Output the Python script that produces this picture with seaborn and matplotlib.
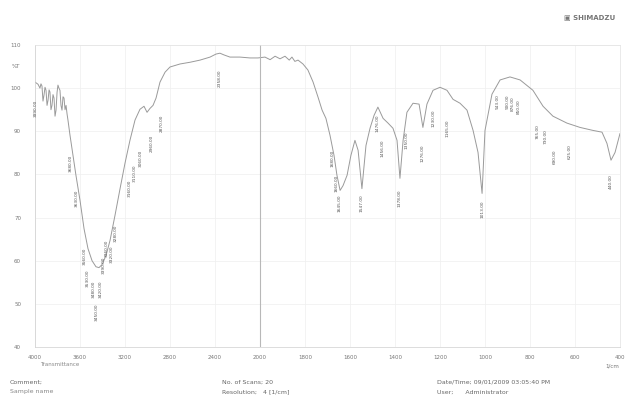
import numpy as np
import pandas as pd
import matplotlib
matplotlib.use("Agg")
import matplotlib.pyplot as plt
import seaborn as sns

# ---- data ----
wavenumber = [4000, 3973, 3956, 3947, 3938, 3929, 3920, 3911, 3902, 3893, 3884, 3875, 3867, 3858,
              3849, 3840, 3831, 3822, 3813, 3804, 3796, 3787, 3778, 3769, 3760, 3751, 3742, 3733,
              3724, 3715, 3707, 3689, 3662, 3636, 3600, 3564, 3529, 3493, 3458, 3431, 3404, 3369,
              3333, 3289, 3244, 3200, 3156, 3111, 3067, 3031, 3004, 2978, 2951, 2924, 2889, 2844,
              2800, 2711, 2622, 2533, 2444, 2391, 2356, 2320, 2267, 2178, 2089, 2018, 1978, 1955,
              1933, 1911, 1889, 1870, 1858, 1845, 1831, 1809, 1787, 1764, 1742, 1724, 1707, 1689,
              1671, 1658, 1644, 1631, 1613, 1596, 1578, 1564, 1547, 1529, 1511, 1493, 1476, 1453,
              1431, 1409, 1391, 1378, 1364, 1347, 1320, 1293, 1276, 1258, 1231, 1200, 1169, 1142,
              1111, 1080, 1053, 1031, 1013, 1000, 969, 933, 889, 844, 787, 742, 698, 636, 578, 520,
              480, 458, 440, 422, 400]
transmittance = [101.4, 100.9, 100.0, 101.0, 100.5, 97.0, 98.4, 100.2, 99.5, 96.0, 97.2, 99.6,
                 99.1, 95.0, 96.0, 98.5, 97.7, 93.5, 94.9, 99.0, 100.7, 100.0, 99.5, 96.0, 94.9,
                 98.0, 97.7, 95.0, 96.0, 94.0, 92.6, 89.1, 84.4, 79.8, 74.0, 67.4, 62.8, 60.0,
                 58.6, 58.4, 59.1, 61.2, 64.7, 70.5, 76.7, 82.6, 87.9, 92.6, 95.1, 95.8, 94.4,
                 95.3, 96.0, 97.7, 101.4, 103.7, 104.9, 105.6, 106.0, 106.5, 107.2, 107.9, 108.1,
                 107.7, 107.2, 107.2, 107.0, 107.0, 107.2, 106.6, 107.4, 106.8, 107.4, 106.5,
                 107.2, 106.2, 106.5, 105.6, 104.2, 101.4, 97.9, 94.9, 93.0, 89.1, 84.4, 79.8,
                 76.3, 77.4, 79.8, 84.4, 87.9, 85.6, 76.7, 86.7, 90.7, 93.7, 95.6, 93.0, 91.9,
                 90.7, 87.9, 79.1, 87.9, 94.4, 96.5, 96.3, 90.9, 96.3, 99.5, 100.2, 99.5, 97.4,
                 96.5, 94.9, 90.2, 85.1, 75.6, 90.2, 98.6, 101.9, 102.6, 101.9, 99.5, 95.8, 93.5,
                 91.9, 90.9, 90.2, 89.8, 87.2, 83.3, 85.1, 89.5]

peak_wn = [3990, 3680, 3630, 3560, 3530, 3480, 3450, 3420, 3390, 3360, 3320, 3280, 3160, 3110,
           3060, 2960, 2870, 2358, 1680, 1660, 1645, 1547, 1476, 1456, 1378, 1350, 1276, 1230,
           1165, 1013, 943, 900, 876, 850, 765, 730, 690, 625, 440]
peak_t = [98.4, 85.6, 77.4, 64.0, 59.0, 56.5, 51.0, 56.5, 62.0, 66.0, 64.6, 69.3, 79.8, 83.3,
          86.7, 90.2, 94.9, 105.3, 86.7, 81.0, 76.3, 76.3, 94.9, 89.0, 77.4, 91.0, 88.0, 96.0,
          93.7, 75.0, 99.5, 99.5, 99.0, 98.5, 92.6, 91.5, 86.7, 87.9, 81.0]

x_ticks = [4000, 3600, 3200, 2800, 2400, 2000, 1800, 1600, 1400, 1200, 1000, 800, 600, 400]
y_ticks = [40, 50, 60, 70, 80, 90, 100, 110]

df = pd.DataFrame({"wn": wavenumber, "t": transmittance})

# ---- figure ----
sns.set_theme(style="white")
plt.rcParams["font.family"] = ["DejaVu Sans"]
fig = plt.figure(figsize=(6.27, 3.97), dpi=100)
ax = fig.add_axes([35 / 627, 1 - 347 / 397, 585 / 627, 302 / 397])


def fwd(w):
    w = np.asarray(w, dtype=float)
    return np.where(w <= 2000, w / 200.0, 10.0 + (w - 2000) / 400.0)


def inv(p):
    p = np.asarray(p, dtype=float)
    return np.where(p <= 10, p * 200.0, 2000.0 + (p - 10) * 400.0)


ax.set_xscale("function", functions=(fwd, inv))
sns.lineplot(data=df, x="wn", y="t", ax=ax, sort=False, color="#9a9a9a", linewidth=0.7)
ax.set_xlim(4000, 400)
ax.set_ylim(40, 110)

ax.set_xticks(x_ticks)
ax.set_xticklabels([str(v) for v in x_ticks])
ax.set_yticks(y_ticks)
ax.set_yticklabels([str(v) for v in y_ticks])
ax.tick_params(axis="x", labelsize=4, colors="#777777", length=2, width=0.4, pad=4)
ax.tick_params(axis="y", labelsize=4, colors="#777777", length=2, width=0.4, pad=8)
ax.grid(True, color="#efefef", linewidth=0.5)
for s in ax.spines.values():
    s.set_color("#e2e2e2")
    s.set_linewidth(0.5)
ax.spines["left"].set_color("#cfcfcf")
ax.spines["bottom"].set_color("#cfcfcf")
ax.axvline(2000, color="#b8b8b8", linewidth=0.8)
ax.set_xlabel("")
ax.set_ylabel("")

for w, t in zip(peak_wn, peak_t):
    ax.text(w, t - 1.0, f"{w:.2f}", rotation=90, fontsize=3.1, color="#555555",
            ha="center", va="top")

# ---- annotations ----
fig.text(12 / 627, 1 - 67 / 397, "%T", fontsize=4, color="#777777", va="center")
fig.text(612 / 627, 1 - 366 / 397, "1/cm", fontsize=4, color="#777777", va="center", ha="center")
fig.text(40 / 627, 1 - 364 / 397, "Transmittance", fontsize=4, color="#888888", va="center")
fig.text(10 / 627, 1 - 382 / 397, "Comment;", fontsize=4.5, color="#666666", va="center")
fig.text(10 / 627, 1 - 392 / 397, "Sample name", fontsize=4.5, color="#888888", va="center")
fig.text(222 / 627, 1 - 382 / 397, "No. of Scans; 20", fontsize=4.5, color="#666666", va="center")
fig.text(222 / 627, 1 - 392 / 397, "Resolution;   4 [1/cm]", fontsize=4.5, color="#666666", va="center")
fig.text(437 / 627, 1 - 382 / 397, "Date/Time; 09/01/2009 03:05:40 PM", fontsize=4.5, color="#666666", va="center")
fig.text(437 / 627, 1 - 392 / 397, "User;      Administrator", fontsize=4.5, color="#666666", va="center")
fig.text(615 / 627, 1 - 17 / 397, "\u25A3 SHIMADZU", fontsize=5, color="#777777", va="center",
         ha="right", fontweight="bold")

fig.savefig("out.png", dpi=100, facecolor="white")
